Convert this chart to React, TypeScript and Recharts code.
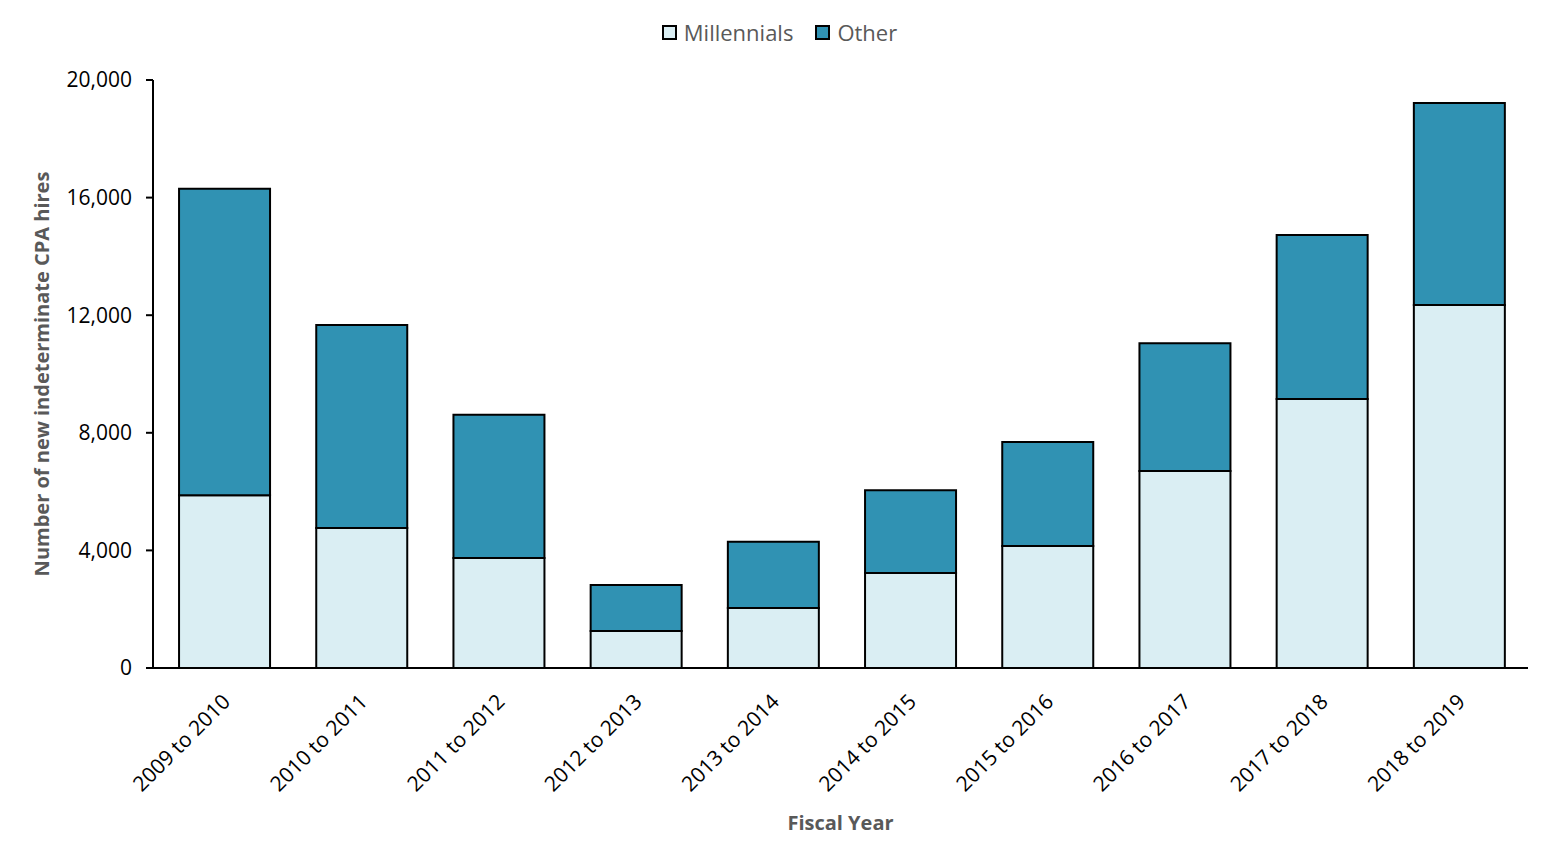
import { Bar, BarChart, XAxis, YAxis } from "recharts";

const years = [
  "2009 to 2010",
  "2010 to 2011",
  "2011 to 2012",
  "2012 to 2013",
  "2013 to 2014",
  "2014 to 2015",
  "2015 to 2016",
  "2016 to 2017",
  "2017 to 2018",
  "2018 to 2019",
];
const millennials = [5880, 4760, 3740, 1260, 2040, 3230, 4150, 6700, 9150, 12350];
const other = [10420, 6910, 4870, 1560, 2250, 2820, 3540, 4350, 5580, 6870];
const yTicks = [0, 4000, 8000, 12000, 16000, 20000];

const data = years.map((year, i) => ({
  year,
  millennials: millennials[i],
  other: other[i],
}));

const FONT = "'Open Sans', 'Liberation Sans', sans-serif";
const LIGHT = "#DAEEF3";
const DARK = "#3092B3";

function YearTick({ x, y, payload }: { x?: number; y?: number; payload?: { value: string } }) {
  return (
    <g transform={`translate(${(x ?? 0) + 3},${(y ?? 0) + 23})`}>
      <text
        transform="rotate(-45)"
        textAnchor="end"
        dominantBaseline="middle"
        fontFamily={FONT}
        fontSize={21}
        fill="#000"
      >
        {payload?.value}
      </text>
    </g>
  );
}

function TopLegend() {
  const items = [
    { label: "Millennials", color: LIGHT },
    { label: "Other", color: DARK },
  ];
  return (
    <div
      style={{
        display: "flex",
        justifyContent: "center",
        gap: 22,
        fontFamily: FONT,
        fontSize: 22,
        color: "#595959",
      }}
    >
      {items.map((it) => (
        <span key={it.label} style={{ display: "flex", alignItems: "center", gap: 7 }}>
          <span
            style={{
              width: 15,
              height: 15,
              background: it.color,
              border: "2px solid #000",
              boxSizing: "border-box",
            }}
          />
          {it.label}
        </span>
      ))}
    </div>
  );
}

export default function App() {
  return (
    <div style={{ position: "absolute", left: 0, top: 0, width: 1551, height: 863 }}>
      <div style={{ position: "absolute", left: 4, top: 17, width: 1551 }}>
        <TopLegend />
      </div>
      <BarChart
        width={1551}
        height={863}
        data={data}
        margin={{ top: 80, right: 23, bottom: 0, left: 22 }}
        barCategoryGap="16.8%"
      >
        <XAxis
          dataKey="year"
          axisLine={{ stroke: "#000", strokeWidth: 2 }}
          tickLine={false}
          tick={<YearTick />}
          interval={0}
          height={195}
          padding={{ left: 3, right: 0 }}
          label={{
            value: "Fiscal Year",
            position: "insideBottom",
            offset: 33,
            fontFamily: FONT,
            fontSize: 20,
            fontWeight: "bold",
            fill: "#595959",
          }}
        />
        <YAxis
          domain={[0, 20000]}
          ticks={yTicks}
          interval={0}
          width={131}
          axisLine={{ stroke: "#000", strokeWidth: 2 }}
          tickLine={{ stroke: "#000", strokeWidth: 2 }}
          tickSize={7}
          tickMargin={14}
          tick={{ fontFamily: FONT, fontSize: 21, fill: "#000" }}
          tickFormatter={(v: number) => v.toLocaleString("en-US")}
          label={{
            value: "Number of new indeterminate CPA hires",
            angle: -90,
            position: "insideLeft",
            offset: 20,
            style: { textAnchor: "middle" },
            fontFamily: FONT,
            fontSize: 20,
            fontWeight: "bold",
            fill: "#595959",
          }}
        />
        <Bar
          dataKey="millennials"
          stackId="a"
          fill={LIGHT}
          stroke="#000"
          strokeWidth={2}
          isAnimationActive={false}
        />
        <Bar
          dataKey="other"
          stackId="a"
          fill={DARK}
          stroke="#000"
          strokeWidth={2}
          isAnimationActive={false}
        />
      </BarChart>
    </div>
  );
}
